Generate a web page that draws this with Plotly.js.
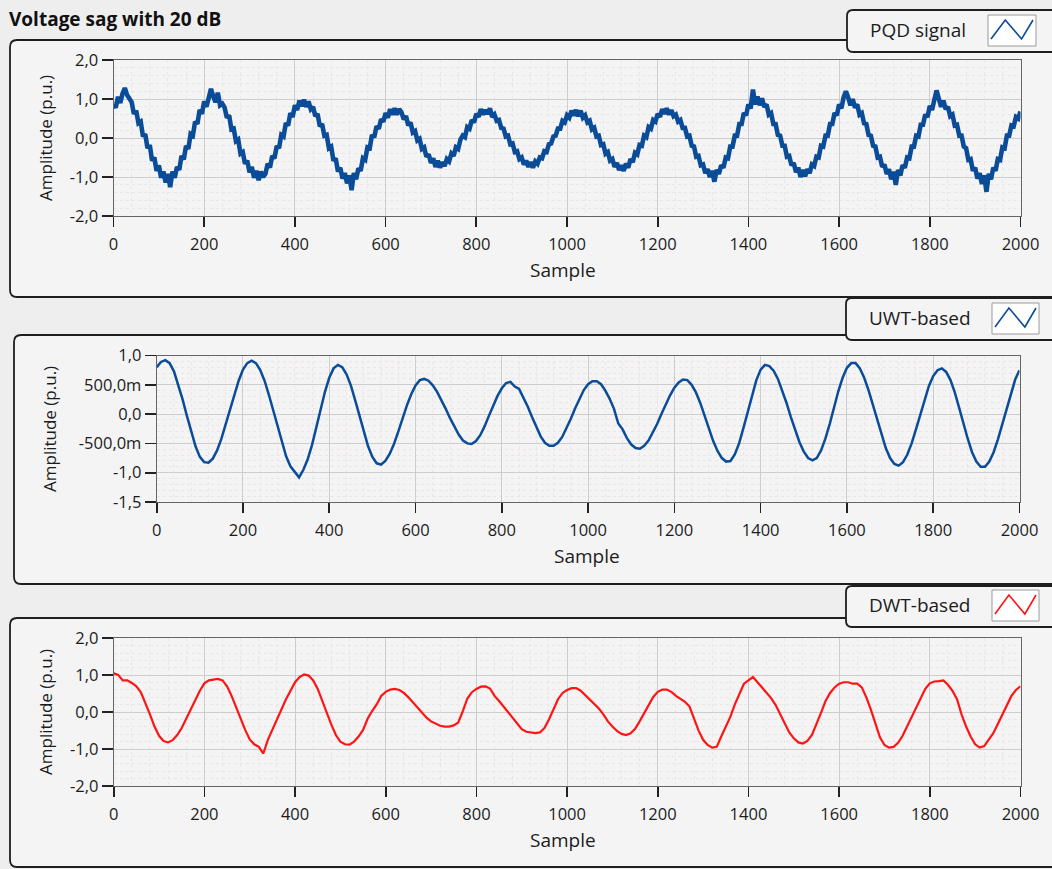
<!DOCTYPE html>
<html><head><meta charset="utf-8">
<script src="https://cdn.plot.ly/plotly-3.0.1.min.js"></script>
<style>html,body{margin:0;padding:0;background:#eeeeee;}#chart{width:1052px;height:869px;}</style>
</head><body><div id="chart"></div>
<script>
const chartTitle = 'Voltage sag with 20 dB';
const seriesNames = ['PQD signal', 'UWT-based', 'DWT-based'];
const xAxisTitle = 'Sample';
const yAxisTitle = 'Amplitude (p.u.)';
const sampleStart = 0;
const pqdStep = 5;
const filteredStep = 10;
const xTickVals = [0, 200, 400, 600, 800, 1000, 1200, 1400, 1600, 1800, 2000];
const yTickVals13 = [2, 1, 0, -1, -2];
const yTickText13 = ['2,0', '1,0', '0,0', '-1,0', '-2,0'];
const yTickVals2 = [1, 0.5, 0, -0.5, -1, -1.5];
const yTickText2 = ['1,0', '500,0m', '0,0', '-500,0m', '-1,0', '-1,5'];

// noisy PQD signal, one value every 5 samples (0..2000)
const pqdSignal = [
0.86,0.78,1.06,0.90,
1.14,1.28,1.10,0.98,0.92,0.62,0.70,0.38,0.42,0.04,0.10,-0.26,-0.18,-0.58,-0.50,-0.84,-0.70,-1.02,-0.86,-1.14,
-0.92,-1.26,-0.86,-1.02,-0.74,-0.82,-0.46,-0.55,-0.20,-0.28,0.10,0.06,0.42,0.36,0.72,0.62,0.94,0.80,1.10,1.26,
1.06,0.92,1.16,0.84,0.88,0.78,0.52,0.58,0.22,0.24,-0.08,-0.04,-0.40,-0.36,-0.66,-0.58,-0.88,-0.74,-1.02,-0.84,
-1.08,-0.86,-1.00,-0.92,-0.66,-0.76,-0.46,-0.52,-0.20,-0.26,0.08,0.04,0.38,0.32,0.64,0.54,0.84,0.72,0.96,0.82,
0.98,0.80,0.94,0.74,0.80,0.56,0.62,0.30,0.36,0.06,0.08,-0.26,-0.22,-0.58,-0.52,-0.86,-0.76,-1.04,-0.90,-1.16,
-0.96,-1.34,-0.90,-1.06,-0.78,-0.84,-0.52,-0.56,-0.24,-0.26,0.08,0.02,0.30,0.24,0.48,0.42,0.64,0.52,0.74,0.60,
0.76,0.60,0.74,0.66,0.48,0.56,0.32,0.40,0.14,0.18,-0.06,-0.02,-0.28,-0.24,-0.48,-0.42,-0.64,-0.52,-0.74,-0.58,
-0.76,-0.62,-0.72,-0.54,-0.60,-0.40,-0.46,-0.24,-0.28,-0.04,0.06,0.02,0.28,0.24,0.46,0.40,0.62,0.54,0.74,0.60,
0.72,0.62,0.76,0.54,0.60,0.44,0.46,0.26,0.24,0.04,0.06,-0.16,-0.14,-0.36,-0.34,-0.54,-0.50,-0.68,-0.58,-0.74,
-0.62,-0.76,-0.60,-0.66,-0.50,-0.52,-0.34,-0.36,-0.16,-0.14,0.04,0.06,0.24,0.24,0.44,0.40,0.58,0.52,0.70,0.58,
0.72,0.56,0.70,0.52,0.58,0.40,0.44,0.22,0.26,0.04,0.06,-0.18,-0.16,-0.40,-0.36,-0.58,-0.54,-0.74,-0.64,-0.82,
-0.70,-0.84,-0.66,-0.76,-0.54,-0.62,-0.38,-0.42,-0.18,-0.20,0.06,0.02,0.28,0.24,0.46,0.42,0.62,0.54,0.74,0.62,
0.76,0.60,0.72,0.56,0.60,0.42,0.46,0.26,0.26,0.04,0.06,-0.20,-0.22,-0.48,-0.46,-0.70,-0.68,-0.90,-0.80,-1.00,
-0.84,-1.12,-0.82,-0.92,-0.70,-0.76,-0.50,-0.52,-0.22,-0.22,0.06,0.06,0.36,0.36,0.64,0.58,0.86,0.76,1.24,0.86,
1.06,0.84,1.02,0.80,0.86,0.60,0.64,0.36,0.36,0.08,0.06,-0.20,-0.20,-0.48,-0.46,-0.70,-0.64,-0.88,-0.76,-1.00,
-0.82,-0.98,-0.80,-0.90,-0.68,-0.72,-0.48,-0.50,-0.20,-0.22,0.06,0.06,0.36,0.36,0.64,0.58,0.86,0.76,1.04,1.20,
1.04,0.84,1.00,0.78,0.86,0.60,0.64,0.38,0.36,0.08,0.06,-0.20,-0.22,-0.50,-0.48,-0.74,-0.68,-0.92,-0.80,-1.06,
-0.86,-1.20,-0.82,-0.96,-0.70,-0.76,-0.50,-0.52,-0.22,-0.22,0.06,0.04,0.34,0.34,0.60,0.54,0.82,0.72,0.98,1.22,
1.00,0.80,0.96,0.74,0.80,0.56,0.60,0.32,0.34,0.06,0.06,-0.22,-0.26,-0.56,-0.54,-0.84,-0.76,-1.04,-0.90,-1.18,
-0.96,-1.38,-0.92,-1.06,-0.76,-0.84,-0.54,-0.56,-0.24,-0.26,0.06,0.06,0.32,0.30,0.54,0.50,0.68];

// UWT-based output, one value every 10 samples
const uwtBased = [
0.80,0.89,0.92,0.87,0.73,0.51,0.25,-0.03,-0.31,-0.55,
-0.73,-0.82,-0.83,-0.76,-0.62,-0.42,-0.17,0.09,0.35,0.57,
0.76,0.87,0.91,0.87,0.75,0.57,0.33,0.06,-0.22,-0.49,
-0.72,-0.89,-0.99,-1.08,-0.95,-0.77,-0.53,-0.23,0.08,0.38,
0.62,0.78,0.84,0.80,0.68,0.49,0.24,-0.04,-0.31,-0.55,
-0.73,-0.84,-0.86,-0.80,-0.68,-0.51,-0.30,-0.07,0.15,0.34,
0.49,0.58,0.60,0.57,0.49,0.38,0.24,0.09,-0.07,-0.22,
-0.35,-0.45,-0.50,-0.51,-0.46,-0.36,-0.21,-0.03,0.15,0.31,
0.44,0.53,0.55,0.47,0.43,0.29,0.13,-0.05,-0.23,-0.38,
-0.49,-0.54,-0.54,-0.49,-0.39,-0.24,-0.08,0.10,0.26,0.41,
0.51,0.56,0.56,0.51,0.40,0.26,0.09,-0.16,-0.26,-0.41,
-0.52,-0.58,-0.59,-0.54,-0.45,-0.32,-0.17,0.00,0.17,0.32,
0.45,0.54,0.59,0.58,0.50,0.37,0.19,-0.03,-0.25,-0.46,
-0.63,-0.75,-0.81,-0.80,-0.69,-0.50,-0.24,0.05,0.34,0.58,
0.76,0.84,0.82,0.74,0.60,0.41,0.19,-0.05,-0.28,-0.48,
-0.64,-0.75,-0.79,-0.75,-0.62,-0.42,-0.17,0.12,0.39,0.62,
0.79,0.87,0.87,0.78,0.62,0.41,0.16,-0.11,-0.36,-0.58,
-0.75,-0.85,-0.88,-0.82,-0.69,-0.50,-0.26,0.00,0.26,0.48,
0.65,0.75,0.78,0.72,0.58,0.37,0.11,-0.16,-0.42,-0.65,
-0.81,-0.90,-0.90,-0.81,-0.65,-0.43,-0.17,0.11,0.37,0.59,
0.75];

// DWT-based output, one value every 10 samples
const dwtBased = [
1.05,1.01,0.86,0.86,0.79,0.70,0.54,0.26,-0.06,-0.39,
-0.64,-0.78,-0.82,-0.76,-0.62,-0.43,-0.18,0.07,0.33,0.58,
0.78,0.86,0.88,0.90,0.86,0.70,0.44,0.12,-0.18,-0.48,
-0.74,-0.87,-0.94,-1.12,-0.75,-0.48,-0.18,0.07,0.35,0.58,
0.81,0.95,1.02,0.99,0.86,0.63,0.30,-0.02,-0.34,-0.62,
-0.80,-0.87,-0.88,-0.80,-0.66,-0.48,-0.18,0.03,0.21,0.44,
0.55,0.61,0.63,0.60,0.52,0.40,0.26,0.12,-0.02,-0.15,
-0.25,-0.32,-0.37,-0.39,-0.39,-0.36,-0.28,0.03,0.37,0.54,
0.63,0.69,0.70,0.64,0.44,0.30,0.15,-0.01,-0.16,-0.31,
-0.46,-0.53,-0.55,-0.57,-0.55,-0.43,-0.20,0.07,0.35,0.52,
0.60,0.65,0.65,0.58,0.46,0.35,0.24,0.10,-0.06,-0.25,
-0.39,-0.51,-0.59,-0.62,-0.57,-0.45,-0.25,-0.02,0.21,0.41,
0.55,0.61,0.61,0.55,0.44,0.35,0.28,0.15,-0.20,-0.50,
-0.75,-0.89,-0.96,-0.94,-0.66,-0.40,-0.13,0.21,0.49,0.77,
0.86,0.95,0.81,0.67,0.54,0.38,0.19,-0.06,-0.32,-0.55,
-0.71,-0.82,-0.85,-0.78,-0.62,-0.34,-0.02,0.30,0.52,0.67,
0.77,0.81,0.81,0.77,0.77,0.67,0.40,0.07,-0.34,-0.68,
-0.89,-0.96,-0.94,-0.83,-0.64,-0.39,-0.13,0.12,0.40,0.63,
0.78,0.83,0.84,0.86,0.74,0.58,0.35,-0.06,-0.39,-0.66,
-0.87,-0.96,-0.92,-0.76,-0.57,-0.32,-0.06,0.21,0.44,0.60,
0.70];

const seriesColors = ['#0b4c98', '#0b4c98', '#ff1414'];
const seriesWidths = [4.6, 2.5, 2.2];
const seriesSteps = [pqdStep, filteredStep, filteredStep];

// ---------- layout helpers (pixel -> paper) ----------
const W = 1052, H = 869;
const PX = p => p / W;
const PY = p => 1 - p / H;
function roundRect(x0, y0, x1, y1, r) {
  const pt = (x, y) => PX(x) + ',' + PY(y);
  return 'M' + pt(x0 + r, y0) + ' L' + pt(x1 - r, y0) + ' Q' + pt(x1, y0) + ' ' + pt(x1, y0 + r) +
    ' L' + pt(x1, y1 - r) + ' Q' + pt(x1, y1) + ' ' + pt(x1 - r, y1) +
    ' L' + pt(x0 + r, y1) + ' Q' + pt(x0, y1) + ' ' + pt(x0, y1 - r) +
    ' L' + pt(x0, y0 + r) + ' Q' + pt(x0, y0) + ' ' + pt(x0 + r, y0) + ' Z';
}
const FONT = 'Open Sans, Noto Sans, DejaVu Sans, sans-serif';
const TXT = '#1c1c1c';

const plots = [
  { dom: [113.5, 1020.5, 60, 216], ticks: [yTickVals13, yTickText13], range: [-2, 2], minor: 0.2 },
  { dom: [156.7, 1019.5, 355.5, 502], ticks: [yTickVals2, yTickText2], range: [-1.5, 1.0], minor: 0.1 },
  { dom: [113.7, 1020.5, 638.3, 786], ticks: [yTickVals13, yTickText13], range: [-2, 2], minor: 0.2 }
];
const panels = [[10, 40, 1075, 297], [14, 335, 1075, 584], [10, 618, 1075, 867]];
const legendBoxes = [[847, 10, 1075, 52], [846, 298, 1075, 340], [846, 586, 1075, 627]];
const iconBoxes = [[988, 15, 1036, 46], [992, 303, 1039, 334], [992, 590, 1039, 621]];
const legendText = [[918, 30], [919.5, 318], [919.5, 605]];
const xTitlePos = [[563, 270], [587, 556], [563, 840]];
const yTitlePos = [[45, 138], [50, 429], [45, 712]];

const allSeries = [pqdSignal, uwtBased, dwtBased];
const data = allSeries.map((ys, i) => ({
  type: 'scatter', mode: 'lines', x0: sampleStart, dx: seriesSteps[i], y: ys,
  name: seriesNames[i], xaxis: 'x' + (i ? i + 1 : ''), yaxis: 'y' + (i ? i + 1 : ''),
  line: { color: seriesColors[i], width: seriesWidths[i] }, hoverinfo: 'skip'
}));

const layout = {
  width: W, height: H, margin: { l: 0, r: 0, t: 0, b: 0 },
  paper_bgcolor: '#eeeeee', plot_bgcolor: '#ffffff', showlegend: false,
  font: { family: FONT, color: TXT, size: 16 },
  shapes: [], annotations: []
};

plots.forEach((p, i) => {
  const s = i ? String(i + 1) : '';
  layout['xaxis' + s] = {
    domain: [PX(p.dom[0]), PX(p.dom[1])], anchor: 'y' + s, range: [0, 2000],
    tickvals: xTickVals, ticks: 'outside', ticklen: 10, tickwidth: 1.6, tickcolor: '#222',
    ticklabelstandoff: 3,
    tickfont: { family: FONT, size: 16.5, color: TXT },
    showline: true, linecolor: '#666', linewidth: 1, mirror: true,
    showgrid: true, gridcolor: '#cdcdcd', gridwidth: 1, zeroline: false, fixedrange: true,
    minor: { dtick: 40, showgrid: true, gridcolor: '#ebe5e5', griddash: 'dot', gridwidth: 1 }
  };
  layout['yaxis' + s] = {
    domain: [PY(p.dom[3]), PY(p.dom[2])], anchor: 'x' + s, range: p.range,
    tickvals: p.ticks[0], ticktext: p.ticks[1], ticks: 'outside', ticklen: 11, tickwidth: 1.6, tickcolor: '#222',
    tickfont: { family: FONT, size: 16.5, color: TXT },
    showline: true, linecolor: '#666', linewidth: 1, mirror: true,
    showgrid: true, gridcolor: '#cdcdcd', gridwidth: 1, zeroline: false, fixedrange: true,
    minor: { dtick: p.minor, showgrid: true, gridcolor: '#ebe5e5', griddash: 'dot', gridwidth: 1 }
  };
  const pn = panels[i];
  layout.shapes.push({ type: 'path', xref: 'paper', yref: 'paper', layer: 'below',
    path: roundRect(pn[0], pn[1], pn[2], pn[3], 7), fillcolor: '#f4f4f4', line: { color: '#1e1e1e', width: 1.8 } });
  const lb = legendBoxes[i];
  layout.shapes.push({ type: 'path', xref: 'paper', yref: 'paper', layer: 'above',
    path: roundRect(lb[0], lb[1], lb[2], lb[3], 6), fillcolor: '#f4f4f4', line: { color: '#1e1e1e', width: 1.8 } });
  const ib = iconBoxes[i];
  layout.shapes.push({ type: 'rect', xref: 'paper', yref: 'paper', layer: 'above',
    x0: PX(ib[0]), x1: PX(ib[2]), y0: PY(ib[3]), y1: PY(ib[1]), fillcolor: '#ffffff', line: { color: '#9a9a9a', width: 1 } });
  const w = ib[2] - ib[0];
  const zig = [[ib[0] + 3, ib[3] - 7], [ib[0] + 0.36 * w, ib[1] + 5], [ib[0] + 0.7 * w, ib[3] - 7], [ib[2] - 3, ib[1] + 5]];
  layout.shapes.push({ type: 'path', xref: 'paper', yref: 'paper', layer: 'above',
    path: zig.map((q, k) => (k ? 'L' : 'M') + PX(q[0]) + ',' + PY(q[1])).join(' '),
    line: { color: seriesColors[i], width: 1.6 } });
  layout.annotations.push({ xref: 'paper', yref: 'paper', x: PX(legendText[i][0]), y: PY(legendText[i][1]),
    text: seriesNames[i], showarrow: false, xanchor: 'center', yanchor: 'middle', font: { family: FONT, size: 19, color: TXT } });
  layout.annotations.push({ xref: 'paper', yref: 'paper', x: PX(xTitlePos[i][0]), y: PY(xTitlePos[i][1]),
    text: xAxisTitle, showarrow: false, xanchor: 'center', yanchor: 'middle', font: { family: FONT, size: 19, color: TXT } });
  layout.annotations.push({ xref: 'paper', yref: 'paper', x: PX(yTitlePos[i][0]), y: PY(yTitlePos[i][1]),
    text: yAxisTitle, textangle: -90, showarrow: false, xanchor: 'center', yanchor: 'middle', font: { family: FONT, size: 17, color: TXT } });
});
layout.annotations.push({ xref: 'paper', yref: 'paper', x: PX(7), y: PY(19), text: '<b>' + chartTitle + '</b>',
  showarrow: false, xanchor: 'left', yanchor: 'middle', font: { family: FONT, size: 19, color: '#111' } });

Plotly.newPlot('chart', data, layout, { staticPlot: true, displayModeBar: false });
</script></body></html>
